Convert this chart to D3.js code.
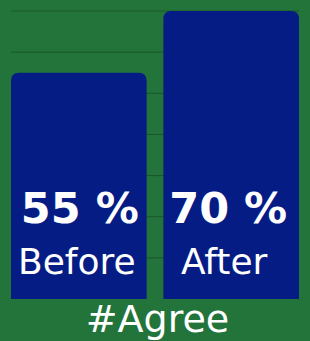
<!DOCTYPE html>
<html><head><meta charset="utf-8">
<script src="https://cdn.jsdelivr.net/npm/d3@7"></script>
<style>html,body{margin:0;padding:0;background:#22743b;}svg{display:block;}</style>
</head><body>
<script>
const categories = ["Before", "After"];
const values = [55, 70];
const valueLabels = ["55 %", "70 %"];
const yTicks = [0, 10, 20, 30, 40, 50, 60, 70];
const title = "#Agree";

const W = 310, H = 341;
const svg = d3.select("body").append("svg").attr("width", W).attr("height", H);
svg.append("rect").attr("width", W).attr("height", H).attr("fill", "#22743b");

const x = d3.scaleBand().domain(categories).range([11, 299]).paddingInner(0.11).paddingOuter(0);
const y = d3.scaleLinear().domain([0, 70]).range([299, 11]);

svg.append("g").selectAll("line").data(yTicks.slice(1)).join("line")
  .attr("x1", 11).attr("x2", 299)
  .attr("y1", d => y(d)).attr("y2", d => y(d))
  .attr("stroke", "#1a562a").attr("stroke-width", 1);

const r = 8;
function barPath(x0, w, yt, yb) {
  return `M${x0},${yb}V${yt + r}Q${x0},${yt} ${x0 + r},${yt}H${x0 + w - r}Q${x0 + w},${yt} ${x0 + w},${yt + r}V${yb}Z`;
}
svg.append("g").selectAll("path").data(categories).join("path")
  .attr("d", (c, i) => barPath(x(c), x.bandwidth(), y(values[i]), y(0)))
  .attr("fill", "#041c84");

const dxVal = [1, -3];
const dxCat = [-2, -7];
svg.append("g").selectAll("text").data(categories).join("text")
  .attr("x", (c, i) => x(c) + x.bandwidth() / 2 + dxVal[i]).attr("y", 223)
  .attr("text-anchor", "middle").attr("fill", "#fff")
  .attr("font-family", "DejaVu Sans").attr("font-weight", "bold").attr("font-size", 43)
  .text((c, i) => valueLabels[i]);

svg.append("g").selectAll("text").data(categories).join("text")
  .attr("x", (c, i) => x(c) + x.bandwidth() / 2 + dxCat[i]).attr("y", 274)
  .attr("text-anchor", "middle").attr("fill", "#fff")
  .attr("font-family", "DejaVu Sans").attr("font-size", 36)
  .text(c => c);

svg.append("text").attr("x", 157.5).attr("y", 332)
  .attr("text-anchor", "middle").attr("fill", "#fff")
  .attr("font-family", "DejaVu Sans").attr("font-size", 38)
  .text(title);
</script>
</body></html>
